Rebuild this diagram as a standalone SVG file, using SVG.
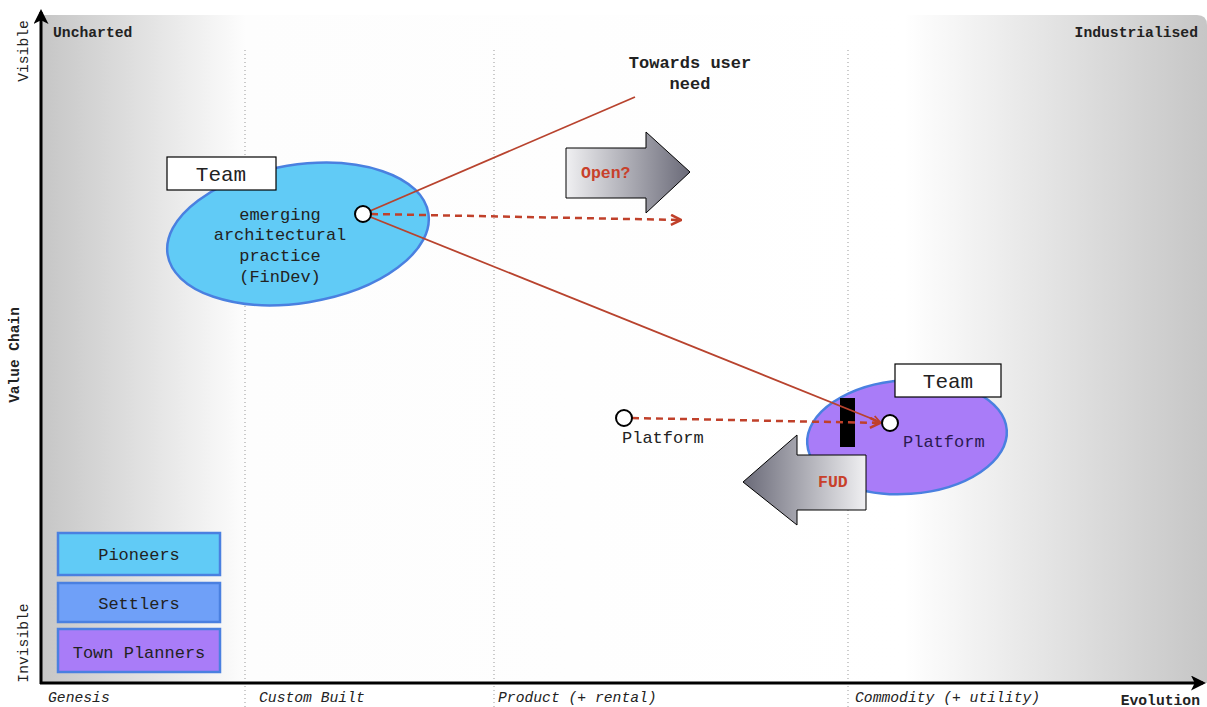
<svg xmlns="http://www.w3.org/2000/svg" width="1207" height="707" viewBox="0 0 1207 707">
<defs>
<linearGradient id="bg" x1="0" y1="0" x2="1" y2="0">
<stop offset="0" stop-color="#c6c6c6"/>
<stop offset="0.175" stop-color="#fdfdfd"/>
<stop offset="0.74" stop-color="#ffffff"/>
<stop offset="1" stop-color="#c6c6c6"/>
</linearGradient>
<linearGradient id="gOpen" x1="0" y1="0" x2="1" y2="0">
<stop offset="0" stop-color="#f0f0f2"/>
<stop offset="1" stop-color="#6a6a78"/>
</linearGradient>
<linearGradient id="gFud" x1="0" y1="0" x2="1" y2="0">
<stop offset="0" stop-color="#6a6a78"/>
<stop offset="1" stop-color="#f0f0f2"/>
</linearGradient>
<marker id="ax" viewBox="0 0 10 10" refX="8" refY="5" markerWidth="5" markerHeight="5" orient="auto" markerUnits="strokeWidth">
<path d="M0,0 L10,5 L0,10 L2.5,5 Z" fill="#000"/>
</marker>
<marker id="ar" viewBox="0 0 10 10" refX="9" refY="5" markerWidth="5" markerHeight="5" orient="auto" markerUnits="strokeWidth">
<path d="M1,1 L9,5 L1,9" fill="none" stroke="#c0402a" stroke-width="2"/>
</marker>
<style>
text{font-family:"Liberation Mono","Courier New",monospace;fill:#222}
.b{font-weight:bold}
.i{font-style:italic;font-size:14.7px}
.lbl{font-size:17px}
.dot{stroke:#999;stroke-width:1;stroke-dasharray:1 3}
.red{stroke:#b8432e;stroke-width:1.8;fill:none}
.dash{stroke:#c0402a;stroke-width:2.5;fill:none;stroke-dasharray:7 5}
.node{fill:#fff;stroke:#000;stroke-width:2}
.box{fill:#fff;stroke:#000;stroke-width:1.2}
.leg{stroke:#4a80e0;stroke-width:2.5}
.rtxt{fill:#c8402a;font-weight:bold;font-size:16.5px}
</style>
</defs>
<g id="background">
<path d="M42,15 H1197 Q1207,15 1207,25 V683 H42 Z" fill="url(#bg)"/>
<line class="dot" x1="245" y1="50" x2="245" y2="707"/>
<line class="dot" x1="494" y1="50" x2="494" y2="707"/>
<line class="dot" x1="848" y1="50" x2="848" y2="707"/>
</g>
<g id="axes">
<line x1="41" y1="684" x2="41" y2="12" stroke="#000" stroke-width="3" marker-end="url(#ax)"/>
<line x1="40" y1="683" x2="1203" y2="683" stroke="#000" stroke-width="3" marker-end="url(#ax)"/>
<text x="53" y="37" class="b" font-size="14.7">Uncharted</text>
<text x="1198" y="37" class="b" font-size="14.7" text-anchor="end">Industrialised</text>
<text transform="translate(28,51) rotate(-90)" font-size="14.7" text-anchor="middle">Visible</text>
<text transform="translate(28,643) rotate(-90)" font-size="14.7" text-anchor="middle">Invisible</text>
<text transform="translate(19,355) rotate(-90)" class="b" font-size="14.5" text-anchor="middle">Value Chain</text>
<text x="48" y="702" class="i">Genesis</text>
<text x="259" y="702" class="i">Custom Built</text>
<text x="498" y="702" class="i">Product (+ rental)</text>
<text x="855" y="702" class="i">Commodity (+ utility)</text>
<text x="1200" y="705" class="b" font-size="14.7" text-anchor="end">Evolution</text>
</g>
<g id="pioneers-team">
<ellipse cx="298" cy="234" rx="132" ry="69" transform="rotate(-9 298 234)" fill="#61cbf6" stroke="#4a80e0" stroke-width="2.5"/>
<rect class="box" x="167" y="157" width="109" height="33"/>
<text x="221" y="181" text-anchor="middle" font-size="21">Team</text>
<text x="280" y="220" text-anchor="middle" class="lbl">emerging</text>
<text x="280" y="240" text-anchor="middle" class="lbl">architectural</text>
<text x="280" y="261" text-anchor="middle" class="lbl">practice</text>
<text x="280" y="282" text-anchor="middle" class="lbl">(FinDev)</text>
</g>
<g id="planners-team">
<ellipse cx="907" cy="437" rx="100" ry="57" transform="rotate(-4 907 437)" fill="#a97cf8" stroke="#4a80e0" stroke-width="2.5"/>
<rect class="box" x="895" y="364" width="106" height="33"/>
<text x="948" y="388" text-anchor="middle" font-size="21">Team</text>
<rect x="840" y="398" width="15" height="49" fill="#000"/>
</g>
<g id="towards-user-need">
<text x="690" y="68" text-anchor="middle" class="b" font-size="17">Towards user</text>
<text x="690" y="89" text-anchor="middle" class="b" font-size="17">need</text>
</g>
<g id="open-arrow">
<path d="M566,148 H646 V132 L690,172 L646,213 V198 H566 Z" fill="url(#gOpen)" stroke="#000" stroke-width="1"/>
<text x="581" y="178" class="rtxt">Open?</text>
</g>
<g id="fud-arrow">
<path d="M866,455 H797 V435 L743,482 L797,525 V510 H866 Z" fill="url(#gFud)" stroke="#000" stroke-width="1"/>
<text x="818" y="487" class="rtxt">FUD</text>
</g>
<g id="connectors">
<line class="red" x1="363" y1="214" x2="635" y2="97"/>
<line class="red" x1="363" y1="214" x2="880" y2="422" marker-end="url(#ar)"/>
<line class="dash" x1="371" y1="214" x2="681" y2="220" marker-end="url(#ar)"/>
<line class="dash" x1="632" y1="418" x2="880" y2="423" marker-end="url(#ar)"/>
</g>
<g id="findev-node">
<circle class="node" cx="363" cy="214" r="8"/>
</g>
<g id="platform-genesis">
<circle class="node" cx="624" cy="418" r="8"/>
<text x="622" y="443" class="lbl">Platform</text>
</g>
<g id="platform-commodity">
<circle class="node" cx="890" cy="423" r="8"/>
<text x="903" y="447" class="lbl" style="fill:#2a1a50">Platform</text>
</g>
<g id="legend">
<g id="legend-pioneers">
<rect class="leg" x="58" y="533" width="162" height="42" fill="#61cbf6"/>
<text x="139" y="560" text-anchor="middle" class="lbl">Pioneers</text>
</g>
<g id="legend-settlers">
<rect class="leg" x="58" y="583" width="162" height="39" fill="#6fa0f8"/>
<text x="139" y="609" text-anchor="middle" class="lbl">Settlers</text>
</g>
<g id="legend-planners">
<rect class="leg" x="58" y="629" width="162" height="43" fill="#a97cf8"/>
<text x="139" y="658" text-anchor="middle" class="lbl">Town Planners</text>
</g>
</g>
</svg>
